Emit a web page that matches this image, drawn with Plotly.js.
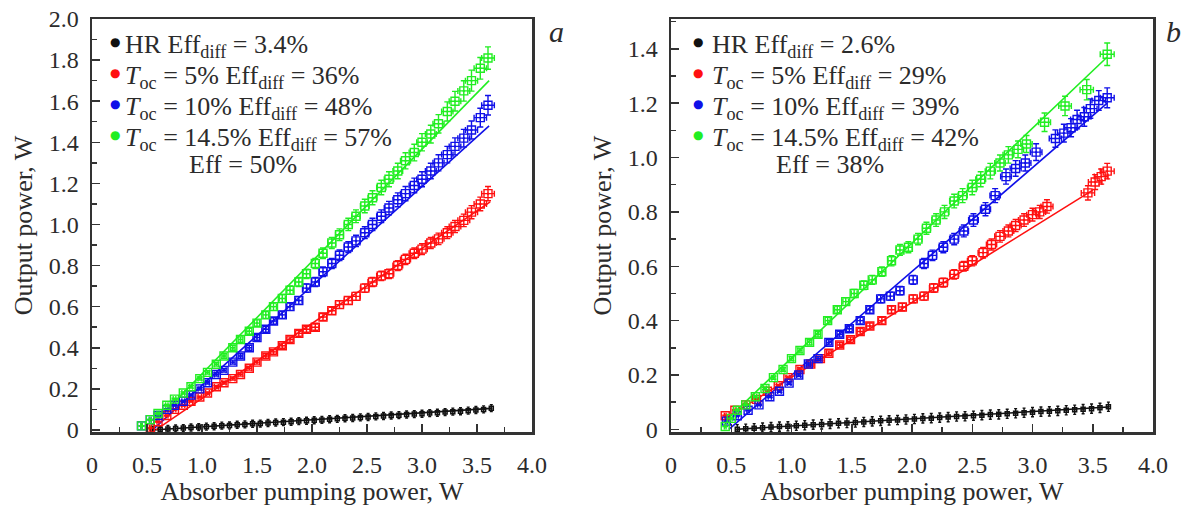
<!DOCTYPE html>
<html>
<head>
<meta charset="utf-8">
<script src="https://cdn.plot.ly/plotly-3.0.1.min.js"></script>
<style>html,body{margin:0;padding:0;background:#fff;}#chart{width:1186px;height:506px;}</style>
</head>
<body>
<div id="chart"></div>
<script>
// ---------- Panel a data ----------
const aHRx = [0.55,0.62,0.69,0.76,0.83,0.9,0.97,1.04,1.11,1.18,1.25,1.32,1.39,1.46,1.53,1.6,1.67,1.74,1.81,1.88,1.95,2.02,2.09,2.16,2.23,2.3,2.37,2.44,2.51,2.58,2.65,2.72,2.79,2.86,2.93,3.0,3.07,3.14,3.21,3.28,3.35,3.42,3.49,3.56,3.63];
const aHRy = [0.000,0.003,0.005,0.007,0.009,0.012,0.014,0.016,0.018,0.021,0.022,0.025,0.027,0.030,0.031,0.034,0.036,0.038,0.040,0.043,0.045,0.047,0.049,0.052,0.054,0.057,0.058,0.061,0.063,0.066,0.068,0.070,0.072,0.075,0.077,0.079,0.082,0.084,0.087,0.089,0.091,0.094,0.097,0.100,0.106];
const a5x = [0.53,0.6,0.68,0.75,0.83,0.9,0.98,1.05,1.13,1.2,1.28,1.35,1.43,1.5,1.58,1.65,1.73,1.8,1.88,1.95,2.03,2.1,2.18,2.25,2.33,2.4,2.48,2.55,2.63,2.7,2.78,2.85,2.93,3.0,3.08,3.15,3.23,3.3,3.38,3.45,3.53,3.6];
const a5y = [0.01,0.04,0.07,0.10,0.12,0.14,0.16,0.18,0.21,0.23,0.25,0.27,0.30,0.33,0.36,0.38,0.41,0.44,0.47,0.49,0.50,0.55,0.58,0.61,0.63,0.65,0.69,0.72,0.75,0.76,0.80,0.83,0.86,0.88,0.91,0.93,0.96,0.99,1.02,1.06,1.10,1.15];
const a10x = [0.45,0.53,0.6,0.68,0.75,0.83,0.9,0.98,1.05,1.13,1.2,1.28,1.35,1.43,1.5,1.58,1.65,1.73,1.8,1.88,1.95,2.03,2.1,2.18,2.25,2.33,2.4,2.48,2.55,2.63,2.7,2.78,2.85,2.93,3.0,3.08,3.15,3.23,3.3,3.38,3.45,3.53,3.6];
const a10y = [0.02,0.05,0.07,0.10,0.12,0.14,0.17,0.20,0.23,0.27,0.29,0.33,0.36,0.40,0.45,0.49,0.53,0.56,0.60,0.63,0.69,0.72,0.77,0.81,0.85,0.89,0.92,0.96,1.00,1.04,1.08,1.12,1.15,1.19,1.22,1.26,1.30,1.34,1.38,1.42,1.46,1.52,1.58];
const a145x = [0.45,0.53,0.6,0.68,0.75,0.83,0.9,0.98,1.05,1.13,1.2,1.28,1.35,1.43,1.5,1.58,1.65,1.73,1.8,1.88,1.95,2.03,2.1,2.18,2.25,2.33,2.4,2.48,2.55,2.63,2.7,2.78,2.85,2.93,3.0,3.08,3.15,3.23,3.3,3.38,3.45,3.53,3.6];
const a145y = [0.02,0.05,0.08,0.12,0.15,0.18,0.21,0.25,0.28,0.32,0.36,0.40,0.44,0.48,0.52,0.56,0.60,0.64,0.68,0.72,0.76,0.81,0.86,0.91,0.95,1.00,1.04,1.09,1.13,1.18,1.22,1.26,1.31,1.35,1.40,1.44,1.49,1.55,1.60,1.65,1.70,1.76,1.81];
const aFitHRx = [0.55,3.63], aFitHRy = [0.0,0.105];
const aFit5x = [0.58,3.62], aFit5y = [0.0,1.11];
const aFit10x = [0.55,3.61], aFit10y = [0.0,1.48];
const aFit145x = [0.5,3.61], aFit145y = [0.0,1.70];

// ---------- Panel b data ----------
const bHRx = [0.55,0.62,0.69,0.76,0.83,0.9,0.97,1.04,1.11,1.18,1.25,1.32,1.39,1.46,1.53,1.6,1.67,1.74,1.81,1.88,1.95,2.02,2.09,2.16,2.23,2.3,2.37,2.44,2.51,2.58,2.65,2.72,2.79,2.86,2.93,3.0,3.07,3.14,3.21,3.28,3.35,3.42,3.49,3.56,3.63];
const bHRy = [0.000,0.002,0.004,0.006,0.008,0.010,0.011,0.013,0.015,0.017,0.018,0.020,0.022,0.023,0.025,0.027,0.029,0.031,0.033,0.034,0.036,0.038,0.040,0.041,0.043,0.045,0.047,0.048,0.050,0.052,0.054,0.055,0.057,0.059,0.061,0.063,0.065,0.066,0.068,0.070,0.072,0.074,0.076,0.079,0.083];
const b5x = [0.45,0.53,0.62,0.71,0.8,0.89,0.97,1.07,1.16,1.24,1.31,1.4,1.49,1.57,1.65,1.75,1.83,1.92,2.01,2.1,2.18,2.26,2.35,2.43,2.5,2.59,2.66,2.73,2.8,2.86,2.93,3.0,3.06,3.12,3.46,3.52,3.57,3.62];
const b5y = [0.05,0.07,0.09,0.11,0.14,0.16,0.19,0.22,0.24,0.26,0.28,0.31,0.33,0.36,0.38,0.40,0.44,0.45,0.48,0.49,0.52,0.54,0.57,0.60,0.62,0.65,0.68,0.71,0.73,0.75,0.77,0.79,0.80,0.82,0.87,0.91,0.93,0.95];
const b10x = [0.46,0.55,0.64,0.73,0.82,0.9,0.98,1.06,1.14,1.22,1.31,1.4,1.48,1.57,1.65,1.74,1.82,1.9,2.01,2.1,2.17,2.26,2.35,2.43,2.51,2.61,2.69,2.78,2.86,2.94,3.03,3.19,3.26,3.32,3.37,3.43,3.48,3.55,3.62];
const b10y = [0.03,0.05,0.07,0.09,0.12,0.14,0.17,0.20,0.24,0.26,0.32,0.35,0.37,0.40,0.44,0.48,0.49,0.51,0.55,0.61,0.64,0.67,0.70,0.73,0.77,0.81,0.86,0.93,0.96,0.98,1.02,1.07,1.09,1.11,1.14,1.15,1.18,1.21,1.22];
const b145x = [0.45,0.5,0.55,0.62,0.7,0.78,0.85,0.93,1.0,1.07,1.15,1.22,1.3,1.38,1.45,1.52,1.6,1.67,1.75,1.83,1.9,1.97,2.05,2.12,2.2,2.27,2.35,2.42,2.5,2.57,2.65,2.73,2.8,2.88,2.95,3.1,3.27,3.45,3.62];
const b145y = [0.01,0.04,0.07,0.09,0.12,0.15,0.19,0.22,0.26,0.29,0.32,0.35,0.40,0.44,0.47,0.50,0.53,0.55,0.58,0.62,0.66,0.67,0.70,0.74,0.77,0.80,0.84,0.86,0.89,0.92,0.95,0.98,1.01,1.03,1.05,1.13,1.19,1.25,1.38];
const bFitHRx = [0.55,3.63], bFitHRy = [0.0,0.082];
const bFit5x = [0.45,3.5], bFit5y = [0.04,0.88];
const bFit10x = [0.48,3.62], bFit10y = [0.0,1.20];
const bFit145x = [0.45,3.62], bFit145y = [0.03,1.37];

// ---------- Labels ----------
const xTickVals = [0,0.5,1.0,1.5,2.0,2.5,3.0,3.5,4.0];
const xTickText = ['0','0.5','1.0','1.5','2.0','2.5','3.0','3.5','4.0'];
const aYTickVals = [0,0.2,0.4,0.6,0.8,1.0,1.2,1.4,1.6,1.8,2.0];
const aYTickText = ['0','0.2','0.4','0.6','0.8','1.0','1.2','1.4','1.6','1.8','2.0'];
const bYTickVals = [0,0.2,0.4,0.6,0.8,1.0,1.2,1.4];
const bYTickText = ['0','0.2','0.4','0.6','0.8','1.0','1.2','1.4'];
const aLegend = [
  'HR Eff<sub>diff</sub> = 3.4%',
  '<i>T</i><sub>oc</sub> = 5% Eff<sub>diff</sub> = 36%',
  '<i>T</i><sub>oc</sub> = 10% Eff<sub>diff</sub> = 48%',
  '<i>T</i><sub>oc</sub> = 14.5% Eff<sub>diff</sub> = 57%'
];
const aLegendExtra = 'Eff = 50%';
const bLegend = [
  'HR Eff<sub>diff</sub> = 2.6%',
  '<i>T</i><sub>oc</sub> = 5% Eff<sub>diff</sub> = 29%',
  '<i>T</i><sub>oc</sub> = 10% Eff<sub>diff</sub> = 39%',
  '<i>T</i><sub>oc</sub> = 14.5% Eff<sub>diff</sub> = 42%'
];
const bLegendExtra = 'Eff = 38%';
const panelLabels = ['a', 'b'];
const xTitle = 'Absorber pumping power, W';
const yTitle = 'Output power, W';

// ---------- Styles ----------
const COLORS = ['#111111','#ff1010','#1010e8','#22ee22'];
const FONT = 'Liberation Serif, serif';
const TXT = '#2b2b2b';
const W = 1186, H = 506;

function dataTrace(x, y, i, xa, ya, name) {
  const isHR = i === 0;
  return {
    x: x, y: y, xaxis: xa, yaxis: ya, type: 'scatter', mode: 'markers', showlegend: false, name: name,
    marker: {symbol: isHR ? 'square-open' : 'square-open-dot', size: isHR ? 4 : 8, color: COLORS[i], line: {width: isHR ? 1.5 : 1.4, color: COLORS[i]}},
    error_y: isHR ? {type: 'constant', value: 0.017, thickness: 1.4, width: 1.5, color: COLORS[i]}
                  : {type: 'percent', value: 3, thickness: 1.4, width: 3, color: COLORS[i]},
    error_x: isHR ? {type: 'constant', value: 0.012, thickness: 1.2, width: 0, color: COLORS[i]}
                  : {type: 'percent', value: 1.6, thickness: 1.4, width: 3, color: COLORS[i]},
    hoverinfo: 'x+y'
  };
}
function fitTrace(x, y, i, xa, ya) {
  return {x: x, y: y, xaxis: xa, yaxis: ya, type: 'scatter', mode: 'lines', showlegend: false,
    line: {color: COLORS[i], width: 1.6}, hoverinfo: 'skip'};
}

const traces = [];
const aSets = [[aHRx,aHRy,aFitHRx,aFitHRy],[a5x,a5y,aFit5x,aFit5y],[a10x,a10y,aFit10x,aFit10y],[a145x,a145y,aFit145x,aFit145y]];
const bSets = [[bHRx,bHRy,bFitHRx,bFitHRy],[b5x,b5y,bFit5x,bFit5y],[b10x,b10y,bFit10x,bFit10y],[b145x,b145y,bFit145x,bFit145y]];
aSets.forEach((s, i) => { traces.push(fitTrace(s[2], s[3], i, 'x', 'y')); });
aSets.forEach((s, i) => { traces.push(dataTrace(s[0], s[1], i, 'x', 'y', aLegend[i])); });
bSets.forEach((s, i) => { traces.push(fitTrace(s[2], s[3], i, 'x2', 'y2')); });
bSets.forEach((s, i) => { traces.push(dataTrace(s[0], s[1], i, 'x2', 'y2', bLegend[i])); });

// legend built from annotations (keeps the tight line spacing of the original)
const annotations = [];
const rowY = [43, 74, 105, 136];
function addLegend(labels, extra, symX, textX, extraX) {
  labels.forEach((t, i) => {
    annotations.push({text: '\u25CF', xref: 'paper', yref: 'paper', x: symX / W, y: 1 - (rowY[i] - 1) / H,
      showarrow: false, xanchor: 'center', yanchor: 'middle',
      font: {family: 'DejaVu Sans, sans-serif', size: 12, color: COLORS[i]}});
    annotations.push({text: t, xref: 'paper', yref: 'paper', x: textX / W, y: 1 - (rowY[i] + 3) / H,
      showarrow: false, xanchor: 'left', yanchor: 'middle', align: 'left',
      font: {family: FONT, size: 26, color: TXT}});
  });
  annotations.push({text: extra, xref: 'paper', yref: 'paper', x: extraX / W, y: 1 - 164 / H,
    showarrow: false, xanchor: 'left', yanchor: 'middle', font: {family: FONT, size: 26, color: TXT}});
}
addLegend(aLegend, aLegendExtra, 115, 123, 187);
addLegend(bLegend, bLegendExtra, 698, 710, 774);
annotations.push({text: '<i>' + panelLabels[0] + '</i>', xref: 'paper', yref: 'paper', x: 556 / W, y: 1 - 32 / H,
  showarrow: false, font: {family: FONT, size: 30, color: TXT}, xanchor: 'center', yanchor: 'middle'});
annotations.push({text: '<i>' + panelLabels[1] + '</i>', xref: 'paper', yref: 'paper', x: 1173 / W, y: 1 - 32 / H,
  showarrow: false, font: {family: FONT, size: 30, color: TXT}, xanchor: 'center', yanchor: 'middle'});

function axisCommon() {
  return {
    showline: true, mirror: true, linecolor: '#333', linewidth: 2.5,
    ticks: 'inside', ticklen: 8, tickwidth: 1.5, tickcolor: '#333',
    showgrid: false, zeroline: false,
    tickfont: {family: FONT, size: 24, color: TXT},
    tickmode: 'array'
  };
}
const yDom = [1 - 432 / H, 1 - 19 / H];
const minorX = {dtick: 0.25, tick0: 0, ticks: 'inside', ticklen: 5, tickwidth: 1.5, tickcolor: '#333'};
const minorY = {dtick: 0.1, tick0: 0, ticks: 'inside', ticklen: 5, tickwidth: 1.5, tickcolor: '#333'};
const layout = {
  width: W, height: H,
  margin: {l: 0, r: 0, t: 0, b: 0},
  paper_bgcolor: '#fff', plot_bgcolor: '#fff',
  showlegend: false,
  font: {family: FONT, size: 24, color: TXT},
  xaxis: Object.assign(axisCommon(), {domain: [92 / W, 532 / W], range: [0, 4.0], anchor: 'y',
    tickvals: xTickVals, ticktext: xTickText, ticklabelstandoff: 10, minor: minorX,
    title: {text: xTitle, font: {family: FONT, size: 26, color: TXT}, standoff: 5}}),
  yaxis: Object.assign(axisCommon(), {domain: yDom, range: [-0.01, 2.0], anchor: 'x',
    tickvals: aYTickVals, ticktext: aYTickText, ticklabelstandoff: 6, minor: minorY,
    title: {text: yTitle, font: {family: FONT, size: 26, color: TXT}, standoff: 9}}),
  xaxis2: Object.assign(axisCommon(), {domain: [671 / W, 1153 / W], range: [0, 4.0], anchor: 'y2',
    tickvals: xTickVals, ticktext: xTickText, ticklabelstandoff: 10, minor: minorX,
    title: {text: xTitle, font: {family: FONT, size: 26, color: TXT}, standoff: 5}}),
  yaxis2: Object.assign(axisCommon(), {domain: yDom, range: [-0.01, 1.51], anchor: 'x2',
    tickvals: bYTickVals, ticktext: bYTickText, ticklabelstandoff: 6, minor: minorY,
    title: {text: yTitle, font: {family: FONT, size: 26, color: TXT}, standoff: 9}}),
  annotations: annotations
};
Plotly.newPlot('chart', traces, layout, {displayModeBar: false, staticPlot: true});
</script>
</body>
</html>
